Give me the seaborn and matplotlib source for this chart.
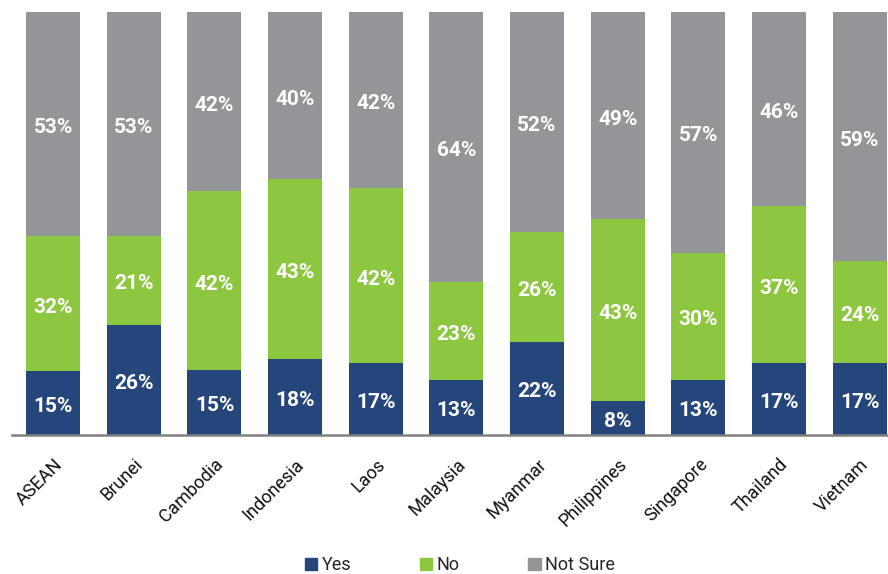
import matplotlib
matplotlib.use("Agg")
import matplotlib.pyplot as plt
import matplotlib.patches as mpatches
import matplotlib.transforms as mtransforms
import numpy as np
import pandas as pd
import seaborn as sns

countries = ["ASEAN", "Brunei", "Cambodia", "Indonesia", "Laos", "Malaysia",
             "Myanmar", "Philippines", "Singapore", "Thailand", "Vietnam"]
yes = [15, 26, 15, 18, 17, 13, 22, 8, 13, 17, 17]
no = [32, 21, 42, 43, 42, 23, 26, 43, 30, 37, 24]
not_sure = [53, 53, 42, 40, 42, 64, 52, 49, 57, 46, 59]

series_names = ["Yes", "No", "Not Sure"]
colors = {"Yes": "#25467A", "No": "#8DC63F", "Not Sure": "#939598"}

sns.set_theme(style="white")
plt.rcParams["font.family"] = ["Roboto", "DejaVu Sans"]

df = pd.DataFrame({"country": countries, "Yes": yes, "No": no, "Not Sure": not_sure})
total = df[series_names].sum(axis=1)
# 100% stacked: share of each answer within a country
share = df[series_names].div(total, axis=0) * 100
df["top_yes"] = share["Yes"]
df["top_no"] = share["Yes"] + share["No"]
df["top_ns"] = share["Yes"] + share["No"] + share["Not Sure"]

fig = plt.figure(figsize=(8.88, 5.74), dpi=100)
ax = fig.add_axes([12 / 888, 1 - 434.5 / 574, 1 - 12 / 888, 422.5 / 574])

width = 0.67
for col, name in [("top_ns", "Not Sure"), ("top_no", "No"), ("top_yes", "Yes")]:
    sns.barplot(data=df, x="country", y=col, color=colors[name], width=width,
                saturation=1, ax=ax, edgecolor="none", linewidth=0)

# segment labels, nudged slightly down so the digits sit optically centred
label_tf = ax.transData + mtransforms.ScaledTranslation(0, -3.5 / 100, fig.dpi_scale_trans)
bottoms = np.zeros(len(df))
for name in series_names:
    vals = share[name].values
    for i, (b, v, raw) in enumerate(zip(bottoms, vals, df[name].values)):
        ax.text(i, b + v / 2, f"{raw}%", ha="center", va="center",
                color="white", fontsize=15, fontweight="bold", transform=label_tf)
    bottoms = bottoms + vals

ax.set_ylim(0, 100)
ax.set_xlim(-0.51, 10.35)
ax.set_xlabel("")
ax.set_ylabel("")
ax.set_yticks([])
for side in ["top", "right", "left"]:
    ax.spines[side].set_visible(False)
ax.spines["bottom"].set_color("#808080")
ax.spines["bottom"].set_linewidth(1.8)
ax.tick_params(axis="x", length=0, pad=15)
ax.set_xticks(range(len(countries)))
ax.set_xticklabels(countries, rotation=45, ha="right", rotation_mode="anchor",
                   fontsize=13, color="#111111")

handles = [mpatches.Patch(color=colors[n], label=n) for n in series_names]
fig.legend(handles=handles, loc="center", bbox_to_anchor=(0.518, 0.015), ncol=3,
           frameon=False, fontsize=13, handlelength=0.68, handleheight=0.68,
           handletextpad=0.25, columnspacing=3.8, borderpad=0)

fig.savefig("out.png", dpi=100)
